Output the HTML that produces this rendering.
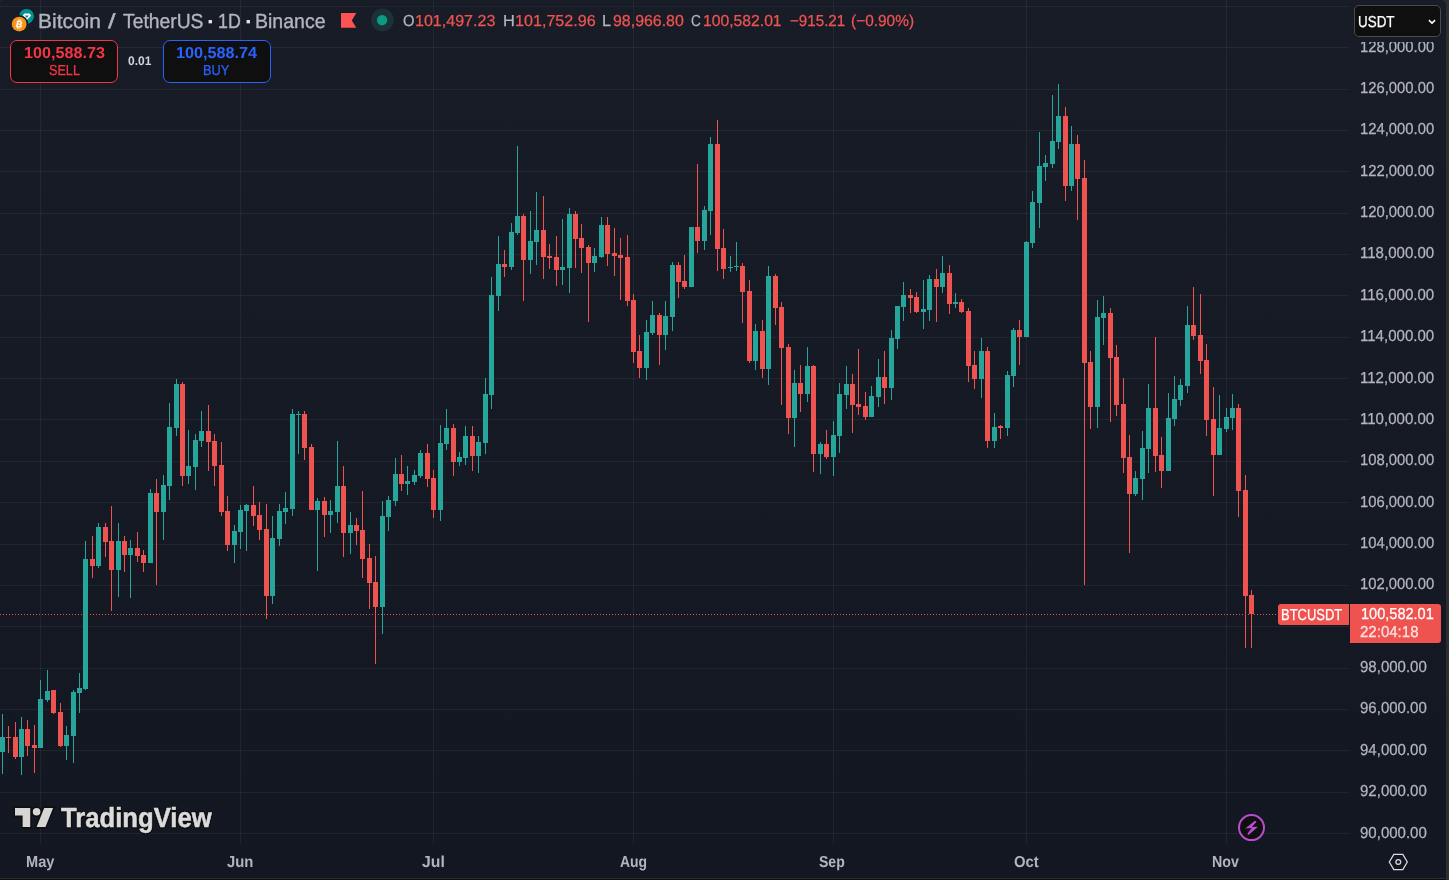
<!DOCTYPE html>
<html lang="en"><head><meta charset="utf-8"><title>BTCUSDT 1D Binance chart</title>
<style>
html,body{margin:0;padding:0}
body{width:1449px;height:880px;background:#2e2e2e;overflow:hidden;position:relative;font-family:"Liberation Sans",sans-serif}
.pane{position:absolute;left:0;top:0;width:1446px;height:878px;background:linear-gradient(#181c27,#131722);border-radius:2px 5px 0 0;overflow:hidden}
.bottombar{position:absolute;left:0;top:879px;width:1446px;height:1px;background:#0c0c0c}
.chart{position:absolute;left:0;top:0}
.t{position:absolute;white-space:pre;line-height:1;text-rendering:geometricPrecision;transform-origin:0 0}
.btn{position:absolute;box-sizing:border-box;background:#0f0f0f;border-radius:7px;border:1px solid}
.sell{left:10px;top:40px;width:108px;height:43px;border-color:#f23645}
.buy{left:163px;top:40px;width:108px;height:43px;border-color:#2962ff}
.unit{position:absolute;box-sizing:border-box;left:1354px;top:5px;width:87px;height:32px;background:#0f0f0f;border:1px solid #4a4a4a;border-radius:5px}
.unitmask{position:absolute;left:1350px;top:0;width:96px;height:42px;overflow:hidden}
.tag{position:absolute;background:#ef5350}
.tagsym{left:1278px;top:604px;width:71px;height:21px;border-radius:3px 0 0 3px}
.tagprice{left:1350px;top:604px;width:91px;height:39px;border-radius:0 3px 3px 0}
.ico{position:absolute;overflow:visible}
.txt{position:absolute;left:0;top:0;width:1446px;height:878px;will-change:transform}
.clip128{position:absolute;left:0;top:42px;width:1446px;height:20px;overflow:hidden}
.clip128 .t{margin-top:-42px}
</style></head>
<body>
<div class="pane">
<svg class="chart" width="1349" height="844" viewBox="0 0 1349 844" shape-rendering="crispEdges"><g fill="rgba(240,243,250,0.06)"><rect x="0" y="6" width="366" height="1"/><rect x="366" y="6" width="555" height="1" opacity="0.5"/><rect x="921" y="6" width="428" height="1"/><rect x="0" y="47" width="1349" height="1"/><rect x="0" y="89" width="1349" height="1"/><rect x="0" y="130" width="1349" height="1"/><rect x="0" y="171" width="1349" height="1"/><rect x="0" y="213" width="1349" height="1"/><rect x="0" y="254" width="1349" height="1"/><rect x="0" y="295" width="1349" height="1"/><rect x="0" y="337" width="1349" height="1"/><rect x="0" y="378" width="1349" height="1"/><rect x="0" y="419" width="1349" height="1"/><rect x="0" y="461" width="1349" height="1"/><rect x="0" y="502" width="1349" height="1"/><rect x="0" y="544" width="1349" height="1"/><rect x="0" y="585" width="1349" height="1"/><rect x="0" y="626" width="1349" height="1"/><rect x="0" y="668" width="1349" height="1"/><rect x="0" y="709" width="1349" height="1"/><rect x="0" y="750" width="1349" height="1"/><rect x="0" y="792" width="1349" height="1"/><rect x="0" y="833" width="1349" height="1"/><rect x="40" y="0" width="1" height="844"/><rect x="240" y="0" width="1" height="844"/><rect x="433" y="0" width="1" height="844"/><rect x="633" y="0" width="1" height="844"/><rect x="833" y="0" width="1" height="844"/><rect x="1026" y="0" width="1" height="844"/><rect x="1226" y="0" width="1" height="844"/></g><g fill="#26a69a"><rect x="2" y="714" width="1" height="60"/><rect x="0" y="737" width="5" height="15"/><rect x="21" y="717" width="1" height="58"/><rect x="19" y="729" width="5" height="28"/><rect x="40" y="680" width="1" height="68"/><rect x="38" y="699" width="5" height="49"/><rect x="47" y="670" width="1" height="32"/><rect x="45" y="691" width="5" height="9"/><rect x="66" y="726" width="1" height="34"/><rect x="64" y="735" width="5" height="11"/><rect x="73" y="690" width="1" height="73"/><rect x="71" y="692" width="5" height="44"/><rect x="79" y="673" width="1" height="40"/><rect x="77" y="688" width="5" height="5"/><rect x="85" y="541" width="1" height="149"/><rect x="83" y="559" width="5" height="130"/><rect x="98" y="523" width="1" height="45"/><rect x="96" y="527" width="5" height="39"/><rect x="118" y="523" width="1" height="74"/><rect x="116" y="541" width="5" height="29"/><rect x="130" y="540" width="1" height="58"/><rect x="128" y="548" width="5" height="7"/><rect x="150" y="489" width="1" height="74"/><rect x="148" y="493" width="5" height="70"/><rect x="163" y="475" width="1" height="65"/><rect x="161" y="485" width="5" height="27"/><rect x="169" y="403" width="1" height="97"/><rect x="167" y="427" width="5" height="59"/><rect x="176" y="379" width="1" height="57"/><rect x="174" y="384" width="5" height="44"/><rect x="188" y="430" width="1" height="54"/><rect x="186" y="466" width="5" height="10"/><rect x="195" y="434" width="1" height="56"/><rect x="193" y="440" width="5" height="27"/><rect x="201" y="411" width="1" height="36"/><rect x="199" y="431" width="5" height="10"/><rect x="234" y="525" width="1" height="38"/><rect x="232" y="531" width="5" height="14"/><rect x="240" y="505" width="1" height="44"/><rect x="238" y="510" width="5" height="22"/><rect x="246" y="504" width="1" height="47"/><rect x="244" y="505" width="5" height="6"/><rect x="272" y="516" width="1" height="88"/><rect x="270" y="538" width="5" height="58"/><rect x="279" y="504" width="1" height="42"/><rect x="277" y="511" width="5" height="28"/><rect x="285" y="492" width="1" height="32"/><rect x="283" y="508" width="5" height="4"/><rect x="292" y="409" width="1" height="107"/><rect x="290" y="414" width="5" height="95"/><rect x="298" y="411" width="1" height="43"/><rect x="296" y="414" width="5" height="1"/><rect x="317" y="498" width="1" height="73"/><rect x="315" y="501" width="5" height="9"/><rect x="330" y="500" width="1" height="33"/><rect x="328" y="511" width="5" height="4"/><rect x="337" y="441" width="1" height="82"/><rect x="335" y="486" width="5" height="26"/><rect x="350" y="512" width="1" height="42"/><rect x="348" y="525" width="5" height="8"/><rect x="382" y="501" width="1" height="133"/><rect x="380" y="516" width="5" height="91"/><rect x="388" y="496" width="1" height="35"/><rect x="386" y="500" width="5" height="17"/><rect x="395" y="458" width="1" height="48"/><rect x="393" y="474" width="5" height="27"/><rect x="407" y="466" width="1" height="29"/><rect x="405" y="481" width="5" height="3"/><rect x="414" y="470" width="1" height="15"/><rect x="412" y="475" width="5" height="7"/><rect x="420" y="450" width="1" height="28"/><rect x="418" y="453" width="5" height="23"/><rect x="440" y="425" width="1" height="96"/><rect x="438" y="443" width="5" height="67"/><rect x="446" y="409" width="1" height="41"/><rect x="444" y="428" width="5" height="16"/><rect x="459" y="452" width="1" height="14"/><rect x="457" y="457" width="5" height="5"/><rect x="465" y="426" width="1" height="39"/><rect x="463" y="436" width="5" height="22"/><rect x="478" y="436" width="1" height="37"/><rect x="476" y="442" width="5" height="14"/><rect x="485" y="378" width="1" height="76"/><rect x="483" y="394" width="5" height="49"/><rect x="491" y="277" width="1" height="132"/><rect x="489" y="295" width="5" height="100"/><rect x="498" y="236" width="1" height="75"/><rect x="496" y="264" width="5" height="32"/><rect x="511" y="223" width="1" height="47"/><rect x="509" y="232" width="5" height="35"/><rect x="517" y="146" width="1" height="89"/><rect x="515" y="216" width="5" height="17"/><rect x="530" y="211" width="1" height="63"/><rect x="528" y="241" width="5" height="19"/><rect x="536" y="192" width="1" height="73"/><rect x="534" y="230" width="5" height="12"/><rect x="562" y="219" width="1" height="66"/><rect x="560" y="267" width="5" height="3"/><rect x="569" y="208" width="1" height="85"/><rect x="567" y="214" width="5" height="54"/><rect x="594" y="248" width="1" height="24"/><rect x="592" y="256" width="5" height="7"/><rect x="601" y="217" width="1" height="41"/><rect x="599" y="225" width="5" height="32"/><rect x="646" y="320" width="1" height="60"/><rect x="644" y="332" width="5" height="36"/><rect x="652" y="301" width="1" height="34"/><rect x="650" y="315" width="5" height="18"/><rect x="665" y="301" width="1" height="49"/><rect x="663" y="316" width="5" height="19"/><rect x="672" y="262" width="1" height="69"/><rect x="670" y="265" width="5" height="52"/><rect x="691" y="227" width="1" height="60"/><rect x="689" y="227" width="5" height="60"/><rect x="704" y="206" width="1" height="44"/><rect x="702" y="210" width="5" height="31"/><rect x="710" y="137" width="1" height="98"/><rect x="708" y="144" width="5" height="67"/><rect x="730" y="256" width="1" height="16"/><rect x="728" y="267" width="5" height="1"/><rect x="736" y="242" width="1" height="29"/><rect x="734" y="266" width="5" height="1"/><rect x="755" y="324" width="1" height="46"/><rect x="753" y="331" width="5" height="30"/><rect x="768" y="266" width="1" height="119"/><rect x="766" y="276" width="5" height="93"/><rect x="794" y="370" width="1" height="77"/><rect x="792" y="383" width="5" height="35"/><rect x="807" y="347" width="1" height="55"/><rect x="805" y="366" width="5" height="28"/><rect x="820" y="442" width="1" height="32"/><rect x="818" y="444" width="5" height="10"/><rect x="833" y="421" width="1" height="55"/><rect x="831" y="435" width="5" height="22"/><rect x="839" y="383" width="1" height="70"/><rect x="837" y="394" width="5" height="42"/><rect x="846" y="366" width="1" height="43"/><rect x="844" y="384" width="5" height="11"/><rect x="871" y="386" width="1" height="31"/><rect x="869" y="396" width="5" height="21"/><rect x="878" y="359" width="1" height="48"/><rect x="876" y="377" width="5" height="20"/><rect x="891" y="330" width="1" height="70"/><rect x="889" y="338" width="5" height="50"/><rect x="897" y="306" width="1" height="43"/><rect x="895" y="306" width="5" height="33"/><rect x="903" y="282" width="1" height="39"/><rect x="901" y="295" width="5" height="12"/><rect x="923" y="280" width="1" height="49"/><rect x="921" y="309" width="5" height="3"/><rect x="929" y="275" width="1" height="46"/><rect x="927" y="279" width="5" height="31"/><rect x="942" y="256" width="1" height="37"/><rect x="940" y="273" width="5" height="14"/><rect x="955" y="293" width="1" height="15"/><rect x="953" y="302" width="5" height="2"/><rect x="981" y="338" width="1" height="60"/><rect x="979" y="351" width="5" height="28"/><rect x="994" y="413" width="1" height="35"/><rect x="992" y="427" width="5" height="14"/><rect x="1007" y="371" width="1" height="65"/><rect x="1005" y="375" width="5" height="53"/><rect x="1013" y="328" width="1" height="59"/><rect x="1011" y="330" width="5" height="46"/><rect x="1026" y="241" width="1" height="96"/><rect x="1024" y="242" width="5" height="95"/><rect x="1032" y="191" width="1" height="57"/><rect x="1030" y="202" width="5" height="41"/><rect x="1039" y="132" width="1" height="96"/><rect x="1037" y="166" width="5" height="37"/><rect x="1045" y="155" width="1" height="26"/><rect x="1043" y="163" width="5" height="4"/><rect x="1052" y="95" width="1" height="73"/><rect x="1050" y="141" width="5" height="23"/><rect x="1058" y="84" width="1" height="65"/><rect x="1056" y="116" width="5" height="26"/><rect x="1071" y="126" width="1" height="65"/><rect x="1069" y="144" width="5" height="42"/><rect x="1097" y="300" width="1" height="128"/><rect x="1095" y="317" width="5" height="90"/><rect x="1103" y="296" width="1" height="49"/><rect x="1101" y="313" width="5" height="5"/><rect x="1135" y="471" width="1" height="25"/><rect x="1133" y="478" width="5" height="16"/><rect x="1142" y="431" width="1" height="69"/><rect x="1140" y="448" width="5" height="31"/><rect x="1148" y="384" width="1" height="89"/><rect x="1146" y="408" width="5" height="41"/><rect x="1168" y="393" width="1" height="78"/><rect x="1166" y="418" width="5" height="53"/><rect x="1174" y="376" width="1" height="50"/><rect x="1172" y="399" width="5" height="20"/><rect x="1180" y="379" width="1" height="27"/><rect x="1178" y="385" width="5" height="15"/><rect x="1187" y="306" width="1" height="87"/><rect x="1185" y="325" width="5" height="61"/><rect x="1219" y="395" width="1" height="60"/><rect x="1217" y="428" width="5" height="27"/><rect x="1226" y="408" width="1" height="24"/><rect x="1224" y="417" width="5" height="12"/><rect x="1232" y="394" width="1" height="36"/><rect x="1230" y="408" width="5" height="10"/></g><g fill="#ef5350"><rect x="8" y="726" width="1" height="27"/><rect x="6" y="737" width="5" height="1"/><rect x="15" y="722" width="1" height="37"/><rect x="13" y="737" width="5" height="20"/><rect x="27" y="720" width="1" height="36"/><rect x="25" y="729" width="5" height="17"/><rect x="34" y="725" width="1" height="48"/><rect x="32" y="745" width="5" height="3"/><rect x="53" y="690" width="1" height="24"/><rect x="51" y="690" width="5" height="23"/><rect x="60" y="703" width="1" height="44"/><rect x="58" y="712" width="5" height="34"/><rect x="92" y="536" width="1" height="42"/><rect x="90" y="559" width="5" height="7"/><rect x="105" y="523" width="1" height="34"/><rect x="103" y="527" width="5" height="15"/><rect x="111" y="506" width="1" height="105"/><rect x="109" y="541" width="5" height="29"/><rect x="124" y="536" width="1" height="36"/><rect x="122" y="541" width="5" height="14"/><rect x="137" y="532" width="1" height="30"/><rect x="135" y="548" width="5" height="8"/><rect x="143" y="550" width="1" height="22"/><rect x="141" y="555" width="5" height="8"/><rect x="156" y="479" width="1" height="106"/><rect x="154" y="493" width="5" height="19"/><rect x="182" y="382" width="1" height="104"/><rect x="180" y="384" width="5" height="92"/><rect x="208" y="405" width="1" height="66"/><rect x="206" y="431" width="5" height="11"/><rect x="214" y="434" width="1" height="52"/><rect x="212" y="441" width="5" height="25"/><rect x="221" y="442" width="1" height="74"/><rect x="219" y="465" width="5" height="47"/><rect x="227" y="496" width="1" height="55"/><rect x="225" y="511" width="5" height="34"/><rect x="253" y="486" width="1" height="40"/><rect x="251" y="505" width="5" height="11"/><rect x="259" y="502" width="1" height="38"/><rect x="257" y="515" width="5" height="15"/><rect x="266" y="504" width="1" height="115"/><rect x="264" y="529" width="5" height="67"/><rect x="304" y="411" width="1" height="49"/><rect x="302" y="414" width="5" height="34"/><rect x="311" y="444" width="1" height="66"/><rect x="309" y="447" width="5" height="63"/><rect x="324" y="497" width="1" height="40"/><rect x="322" y="501" width="5" height="14"/><rect x="343" y="466" width="1" height="91"/><rect x="341" y="486" width="5" height="47"/><rect x="356" y="518" width="1" height="27"/><rect x="354" y="525" width="5" height="6"/><rect x="362" y="491" width="1" height="87"/><rect x="360" y="530" width="5" height="29"/><rect x="369" y="544" width="1" height="65"/><rect x="367" y="558" width="5" height="25"/><rect x="375" y="556" width="1" height="108"/><rect x="373" y="582" width="5" height="25"/><rect x="401" y="455" width="1" height="36"/><rect x="399" y="474" width="5" height="10"/><rect x="427" y="444" width="1" height="43"/><rect x="425" y="453" width="5" height="26"/><rect x="433" y="470" width="1" height="48"/><rect x="431" y="478" width="5" height="32"/><rect x="453" y="424" width="1" height="52"/><rect x="451" y="428" width="5" height="34"/><rect x="472" y="426" width="1" height="45"/><rect x="470" y="436" width="5" height="20"/><rect x="504" y="250" width="1" height="27"/><rect x="502" y="264" width="5" height="3"/><rect x="523" y="214" width="1" height="87"/><rect x="521" y="216" width="5" height="44"/><rect x="543" y="196" width="1" height="83"/><rect x="541" y="230" width="5" height="27"/><rect x="549" y="244" width="1" height="25"/><rect x="547" y="256" width="5" height="2"/><rect x="556" y="236" width="1" height="50"/><rect x="554" y="257" width="5" height="13"/><rect x="575" y="211" width="1" height="57"/><rect x="573" y="214" width="5" height="25"/><rect x="581" y="224" width="1" height="49"/><rect x="579" y="238" width="5" height="10"/><rect x="588" y="245" width="1" height="77"/><rect x="586" y="247" width="5" height="16"/><rect x="607" y="217" width="1" height="49"/><rect x="605" y="225" width="5" height="29"/><rect x="614" y="228" width="1" height="48"/><rect x="612" y="253" width="5" height="3"/><rect x="620" y="238" width="1" height="62"/><rect x="618" y="255" width="5" height="3"/><rect x="627" y="235" width="1" height="71"/><rect x="625" y="257" width="5" height="44"/><rect x="633" y="294" width="1" height="69"/><rect x="631" y="300" width="5" height="52"/><rect x="639" y="335" width="1" height="43"/><rect x="637" y="351" width="5" height="17"/><rect x="659" y="313" width="1" height="52"/><rect x="657" y="315" width="5" height="20"/><rect x="678" y="262" width="1" height="36"/><rect x="676" y="265" width="5" height="17"/><rect x="684" y="255" width="1" height="34"/><rect x="682" y="281" width="5" height="6"/><rect x="697" y="164" width="1" height="89"/><rect x="695" y="227" width="5" height="14"/><rect x="717" y="120" width="1" height="151"/><rect x="715" y="144" width="5" height="105"/><rect x="723" y="229" width="1" height="50"/><rect x="721" y="248" width="5" height="21"/><rect x="742" y="263" width="1" height="60"/><rect x="740" y="266" width="5" height="26"/><rect x="749" y="280" width="1" height="83"/><rect x="747" y="291" width="5" height="70"/><rect x="762" y="320" width="1" height="58"/><rect x="760" y="331" width="5" height="38"/><rect x="775" y="274" width="1" height="51"/><rect x="773" y="276" width="5" height="32"/><rect x="781" y="302" width="1" height="103"/><rect x="779" y="307" width="5" height="41"/><rect x="788" y="344" width="1" height="90"/><rect x="786" y="347" width="5" height="71"/><rect x="800" y="365" width="1" height="47"/><rect x="798" y="383" width="5" height="11"/><rect x="813" y="365" width="1" height="107"/><rect x="811" y="366" width="5" height="88"/><rect x="826" y="430" width="1" height="29"/><rect x="824" y="444" width="5" height="13"/><rect x="852" y="374" width="1" height="59"/><rect x="850" y="384" width="5" height="21"/><rect x="858" y="349" width="1" height="66"/><rect x="856" y="404" width="5" height="3"/><rect x="865" y="392" width="1" height="28"/><rect x="863" y="406" width="5" height="11"/><rect x="884" y="351" width="1" height="53"/><rect x="882" y="377" width="5" height="11"/><rect x="910" y="289" width="1" height="24"/><rect x="908" y="295" width="5" height="3"/><rect x="916" y="292" width="1" height="21"/><rect x="914" y="297" width="5" height="15"/><rect x="936" y="269" width="1" height="53"/><rect x="934" y="279" width="5" height="8"/><rect x="949" y="265" width="1" height="49"/><rect x="947" y="273" width="5" height="31"/><rect x="961" y="299" width="1" height="14"/><rect x="959" y="302" width="5" height="10"/><rect x="968" y="308" width="1" height="74"/><rect x="966" y="311" width="5" height="55"/><rect x="974" y="351" width="1" height="38"/><rect x="972" y="365" width="5" height="14"/><rect x="987" y="347" width="1" height="101"/><rect x="985" y="351" width="5" height="90"/><rect x="1000" y="425" width="1" height="14"/><rect x="998" y="426" width="5" height="2"/><rect x="1019" y="320" width="1" height="45"/><rect x="1017" y="330" width="5" height="7"/><rect x="1065" y="107" width="1" height="94"/><rect x="1063" y="116" width="5" height="70"/><rect x="1077" y="135" width="1" height="85"/><rect x="1075" y="144" width="5" height="35"/><rect x="1084" y="160" width="1" height="425"/><rect x="1082" y="178" width="5" height="185"/><rect x="1090" y="351" width="1" height="78"/><rect x="1088" y="362" width="5" height="45"/><rect x="1110" y="308" width="1" height="114"/><rect x="1108" y="313" width="5" height="45"/><rect x="1116" y="345" width="1" height="71"/><rect x="1114" y="357" width="5" height="48"/><rect x="1123" y="378" width="1" height="95"/><rect x="1121" y="404" width="5" height="54"/><rect x="1129" y="435" width="1" height="118"/><rect x="1127" y="457" width="5" height="37"/><rect x="1155" y="337" width="1" height="135"/><rect x="1153" y="408" width="5" height="48"/><rect x="1161" y="437" width="1" height="51"/><rect x="1159" y="455" width="5" height="16"/><rect x="1193" y="287" width="1" height="53"/><rect x="1191" y="325" width="5" height="11"/><rect x="1200" y="294" width="1" height="80"/><rect x="1198" y="335" width="5" height="26"/><rect x="1206" y="344" width="1" height="92"/><rect x="1204" y="360" width="5" height="60"/><rect x="1213" y="387" width="1" height="109"/><rect x="1211" y="419" width="5" height="36"/><rect x="1238" y="404" width="1" height="113"/><rect x="1236" y="408" width="5" height="83"/><rect x="1245" y="475" width="1" height="173"/><rect x="1243" y="490" width="5" height="106"/><rect x="1251" y="590" width="1" height="58"/><rect x="1249" y="595" width="5" height="19"/></g><line x1="0" y1="614.5" x2="1278" y2="614.5" stroke="#ef5350" stroke-width="1" stroke-dasharray="1 2"/></svg>
<div class="unit"></div>
<div class="btn sell"></div><div class="btn buy"></div>
<div class="tag tagsym"></div><div class="tag tagprice"></div>

<svg class="ico" style="left:10px;top:6px" width="28" height="28" viewBox="0 0 28 28">
 <defs><mask id="mk"><rect width="28" height="28" fill="#fff"/><circle cx="9.150" cy="18.100" r="9.100" fill="#000"/></mask></defs>
 <g mask="url(#mk)"><circle cx="16.550" cy="10.300" r="7.400" fill="#009393"/>
 <path d="M14.300 7.600h5.200l1.600 2.100-4.200 4.200-4.200-4.200z" fill="#fff"/><path d="M14.800 9.400h4.200l-2.100 2.500z" fill="#009393"/></g>
 <circle cx="9.150" cy="18.100" r="7.400" fill="#f7931a"/>
 <g transform="rotate(13 9.200 18.100)" fill="#fff"><text x="9.400" y="21.300" font-size="9" font-weight="700" text-anchor="middle" font-family="Liberation Sans, sans-serif">B</text><rect x="7.700" y="13.300" width="0.900" height="2"/><rect x="9.500" y="13.300" width="0.900" height="2"/><rect x="7.700" y="20.900" width="0.900" height="2"/><rect x="9.500" y="20.900" width="0.900" height="2"/></g>
</svg>
<svg class="ico" style="left:341px;top:13px" width="16" height="15" viewBox="0 0 16 15"><path d="M0 0h15.300l-4.500 7.400 4.500 7.400H0z" fill="#ff5252"/></svg>
<svg class="ico" style="left:370px;top:8px" width="24" height="24" viewBox="0 0 24 24"><circle cx="12.5" cy="11.9" r="11.3" fill="#1b3239"/><circle cx="12.1" cy="12.1" r="5.2" fill="#0a9b82"/></svg>
<svg class="ico" style="left:1428.4px;top:18.7px" width="8" height="6" viewBox="0 0 8 6"><path d="M0.9 1.100L4 4.100 7.100 1.100" fill="none" stroke="#fff" stroke-width="1.500"/></svg>
<svg class="ico" style="left:15px;top:807.6px" width="38.1" height="19.05" viewBox="2 2 30 15"><path fill="#d6d6d6" stroke="#0f0f0f" stroke-width="2.400" paint-order="stroke fill" stroke-linejoin="miter" d="M14 2H2v6h6v9h6V2Zm12 15h-7l6-15h7l-6 15Zm-7-9a3 3 0 1 0 0-6 3 3 0 0 0 0 6Z"/></svg>
<svg class="ico" style="left:1237px;top:813px" width="29" height="29" viewBox="0 0 29 29"><circle cx="14.5" cy="14.6" r="12.5" fill="#0f0f0f" stroke="#ba4ccf" stroke-width="2"/><path d="M18 7.700L8.200 15.500l6.500-.4-4.500 6 1.300.9 9.500-8.300-6.200.2 4.800-5.100z" fill="#ba4ccf"/></svg>
<svg class="ico" style="left:1388px;top:853px" width="21" height="18" viewBox="0 0 21 18"><path d="M5.800 1.400h9l4.500 7.600-4.500 7.600h-9L1.300 9z" fill="none" stroke="#dcdcdc" stroke-width="1.250"/><circle cx="10.300" cy="9" r="2.400" fill="none" stroke="#dcdcdc" stroke-width="1.250"/></svg>

<div class="txt">
<div class="clip128"><span class="t" id="p128000" style="left:1360.02px;top:40.00px;font-size:15.9px;color:#b2b5be;-webkit-text-stroke:0.25px currentColor;transform:scaleX(0.9321);">128,000.00</span></div>
<span class="t" id="ti1" style="left:38.11px;top:12.00px;font-size:20.3px;color:#b2b5be;-webkit-text-stroke:0.35px currentColor;transform:scaleX(1.0336);">Bitcoin</span>
<span class="t" id="ti2" style="left:108.44px;top:12.00px;font-size:20.3px;color:#b2b5be;-webkit-text-stroke:0.35px currentColor;transform:scaleX(1.3411);">/</span>
<span class="t" id="ti3" style="left:122.71px;top:12.00px;font-size:20.3px;color:#b2b5be;-webkit-text-stroke:0.35px currentColor;transform:scaleX(0.9520);">TetherUS</span>
<span class="t" id="td1" style="left:207.44px;top:11.00px;font-size:22px;color:#e6e6e0;font-weight:700;transform:scaleX(1.0788);">·</span>
<span class="t" id="ti4" style="left:218.28px;top:12.00px;font-size:20.3px;color:#b2b5be;-webkit-text-stroke:0.35px currentColor;transform:scaleX(0.8765);">1D</span>
<span class="t" id="td2" style="left:245.41px;top:11.00px;font-size:22px;color:#e6e6e0;font-weight:700;transform:scaleX(1.0783);">·</span>
<span class="t" id="ti5" style="left:255.32px;top:12.00px;font-size:20.3px;color:#b2b5be;-webkit-text-stroke:0.35px currentColor;transform:scaleX(0.9620);">Binance</span>
<span class="t" id="lo" style="left:403.16px;top:14.00px;font-size:15.9px;color:#b2b5be;-webkit-text-stroke:0.25px currentColor;transform:scaleX(0.9295);">O</span>
<span class="t" id="vo" style="left:415.41px;top:14.00px;font-size:15.9px;color:#ef5350;-webkit-text-stroke:0.25px currentColor;transform:scaleX(1.0103);">101,497.23</span>
<span class="t" id="lh" style="left:503.03px;top:14.00px;font-size:15.9px;color:#b2b5be;-webkit-text-stroke:0.25px currentColor;transform:scaleX(1.0340);">H</span>
<span class="t" id="vh" style="left:514.56px;top:14.00px;font-size:15.9px;color:#ef5350;-webkit-text-stroke:0.25px currentColor;transform:scaleX(1.0147);">101,752.96</span>
<span class="t" id="ll" style="left:602.23px;top:14.00px;font-size:15.9px;color:#b2b5be;-webkit-text-stroke:0.25px currentColor;transform:scaleX(1.0157);">L</span>
<span class="t" id="vl" style="left:613.01px;top:14.00px;font-size:15.9px;color:#ef5350;-webkit-text-stroke:0.25px currentColor;transform:scaleX(1.0020);">98,966.80</span>
<span class="t" id="lc" style="left:691.44px;top:14.00px;font-size:15.9px;color:#b2b5be;-webkit-text-stroke:0.25px currentColor;transform:scaleX(0.8524);">C</span>
<span class="t" id="vc" style="left:703.20px;top:14.00px;font-size:15.9px;color:#ef5350;-webkit-text-stroke:0.25px currentColor;transform:scaleX(0.9882);">100,582.01</span>
<span class="t" id="vd1" style="left:790.45px;top:14.00px;font-size:15.9px;color:#ef5350;-webkit-text-stroke:0.25px currentColor;transform:scaleX(0.9543);">−915.21</span>
<span class="t" id="vd2" style="left:851.26px;top:14.00px;font-size:15.9px;color:#ef5350;-webkit-text-stroke:0.25px currentColor;transform:scaleX(0.9710);">(−0.90%)</span>
<span class="t" id="sp" style="left:23.98px;top:46.00px;font-size:15.9px;color:#f23645;font-weight:700;transform:scaleX(1.0171);">100,588.73</span>
<span class="t" id="sl" style="left:49.02px;top:64.00px;font-size:14.5px;color:#f23645;-webkit-text-stroke:0.25px currentColor;transform:scaleX(0.8712);">SELL</span>
<span class="t" id="bp" style="left:176.24px;top:46.00px;font-size:15.9px;color:#2962ff;font-weight:700;transform:scaleX(1.0197);">100,588.74</span>
<span class="t" id="bl" style="left:203.33px;top:64.00px;font-size:14.5px;color:#2962ff;-webkit-text-stroke:0.25px currentColor;transform:scaleX(0.8837);">BUY</span>
<span class="t" id="spr" style="left:127.81px;top:55.00px;font-size:12.5px;color:#d1d4dc;font-weight:700;transform:scaleX(0.9607);">0.01</span>
<span class="t" id="usdt" style="left:1358.05px;top:15.00px;font-size:15.9px;color:#ffffff;-webkit-text-stroke:0.25px currentColor;transform:scaleX(0.8452);">USDT</span>
<span class="t" id="sym" style="left:1281.29px;top:608.00px;font-size:15.9px;color:#ffffff;-webkit-text-stroke:0.25px currentColor;transform:scaleX(0.8158);">BTCUSDT</span>
<span class="t" id="lastp" style="left:1361.03px;top:607.00px;font-size:15.9px;color:#ffffff;-webkit-text-stroke:0.25px currentColor;transform:scaleX(0.9148);">100,582.01</span>
<span class="t" id="cd" style="left:1360.48px;top:625.00px;font-size:15.9px;color:rgba(255,255,255,0.8);-webkit-text-stroke:0.25px currentColor;transform:scaleX(0.9459);">22:04:18</span>
<span class="t" id="m5" style="left:26.40px;top:855.00px;font-size:15.9px;color:#b2b5be;font-weight:700;transform:scaleX(0.9169);">May</span>
<span class="t" id="m6" style="left:227.25px;top:855.00px;font-size:15.9px;color:#b2b5be;font-weight:700;transform:scaleX(0.9342);">Jun</span>
<span class="t" id="m7" style="left:422.10px;top:855.00px;font-size:15.9px;color:#b2b5be;font-weight:700;transform:scaleX(0.9927);">Jul</span>
<span class="t" id="m8" style="left:619.97px;top:855.00px;font-size:15.9px;color:#b2b5be;font-weight:700;transform:scaleX(0.8778);">Aug</span>
<span class="t" id="m9" style="left:819.39px;top:855.00px;font-size:15.9px;color:#b2b5be;font-weight:700;transform:scaleX(0.8841);">Sep</span>
<span class="t" id="m10" style="left:1013.95px;top:855.00px;font-size:15.9px;color:#b2b5be;font-weight:700;transform:scaleX(0.9358);">Oct</span>
<span class="t" id="m11" style="left:1212.25px;top:855.00px;font-size:15.9px;color:#b2b5be;font-weight:700;transform:scaleX(0.8968);">Nov</span>
<span class="t" id="tv" style="left:60.99px;top:804.00px;font-size:27.7px;color:#dbdbdb;font-weight:700;transform:scaleX(0.9266);-webkit-text-stroke:0.5px #dbdbdb;text-shadow:1.5px 0 #101014,-1.5px 0 #101014,0 1.5px #101014,0 -1.5px #101014,1.1px 1.1px #101014,-1.1px 1.1px #101014,1.1px -1.1px #101014,-1.1px -1.1px #101014;">TradingView</span>
<span class="t" id="p126000" style="left:1360.02px;top:81.00px;font-size:15.9px;color:#b2b5be;-webkit-text-stroke:0.25px currentColor;transform:scaleX(0.9321);">126,000.00</span>
<span class="t" id="p124000" style="left:1360.02px;top:122.00px;font-size:15.9px;color:#b2b5be;-webkit-text-stroke:0.25px currentColor;transform:scaleX(0.9321);">124,000.00</span>
<span class="t" id="p122000" style="left:1360.02px;top:164.00px;font-size:15.9px;color:#b2b5be;-webkit-text-stroke:0.25px currentColor;transform:scaleX(0.9321);">122,000.00</span>
<span class="t" id="p120000" style="left:1360.02px;top:205.00px;font-size:15.9px;color:#b2b5be;-webkit-text-stroke:0.25px currentColor;transform:scaleX(0.9321);">120,000.00</span>
<span class="t" id="p118000" style="left:1360.02px;top:246.00px;font-size:15.9px;color:#b2b5be;-webkit-text-stroke:0.25px currentColor;transform:scaleX(0.9468);">118,000.00</span>
<span class="t" id="p116000" style="left:1360.02px;top:288.00px;font-size:15.9px;color:#b2b5be;-webkit-text-stroke:0.25px currentColor;transform:scaleX(0.9468);">116,000.00</span>
<span class="t" id="p114000" style="left:1360.02px;top:329.00px;font-size:15.9px;color:#b2b5be;-webkit-text-stroke:0.25px currentColor;transform:scaleX(0.9468);">114,000.00</span>
<span class="t" id="p112000" style="left:1360.02px;top:371.00px;font-size:15.9px;color:#b2b5be;-webkit-text-stroke:0.25px currentColor;transform:scaleX(0.9468);">112,000.00</span>
<span class="t" id="p110000" style="left:1360.02px;top:412.00px;font-size:15.9px;color:#b2b5be;-webkit-text-stroke:0.25px currentColor;transform:scaleX(0.9468);">110,000.00</span>
<span class="t" id="p108000" style="left:1360.02px;top:453.00px;font-size:15.9px;color:#b2b5be;-webkit-text-stroke:0.25px currentColor;transform:scaleX(0.9321);">108,000.00</span>
<span class="t" id="p106000" style="left:1360.02px;top:495.00px;font-size:15.9px;color:#b2b5be;-webkit-text-stroke:0.25px currentColor;transform:scaleX(0.9321);">106,000.00</span>
<span class="t" id="p104000" style="left:1360.02px;top:536.00px;font-size:15.9px;color:#b2b5be;-webkit-text-stroke:0.25px currentColor;transform:scaleX(0.9321);">104,000.00</span>
<span class="t" id="p102000" style="left:1360.02px;top:577.00px;font-size:15.9px;color:#b2b5be;-webkit-text-stroke:0.25px currentColor;transform:scaleX(0.9321);">102,000.00</span>
<span class="t" id="p98000" style="left:1360.13px;top:660.00px;font-size:15.9px;color:#b2b5be;-webkit-text-stroke:0.25px currentColor;transform:scaleX(0.9453);">98,000.00</span>
<span class="t" id="p96000" style="left:1360.13px;top:701.00px;font-size:15.9px;color:#b2b5be;-webkit-text-stroke:0.25px currentColor;transform:scaleX(0.9453);">96,000.00</span>
<span class="t" id="p94000" style="left:1360.13px;top:743.00px;font-size:15.9px;color:#b2b5be;-webkit-text-stroke:0.25px currentColor;transform:scaleX(0.9453);">94,000.00</span>
<span class="t" id="p92000" style="left:1360.13px;top:784.00px;font-size:15.9px;color:#b2b5be;-webkit-text-stroke:0.25px currentColor;transform:scaleX(0.9453);">92,000.00</span>
<span class="t" id="p90000" style="left:1360.13px;top:826.00px;font-size:15.9px;color:#b2b5be;-webkit-text-stroke:0.25px currentColor;transform:scaleX(0.9453);">90,000.00</span>
</div>
</div>
<div class="bottombar"></div>
</body></html>
